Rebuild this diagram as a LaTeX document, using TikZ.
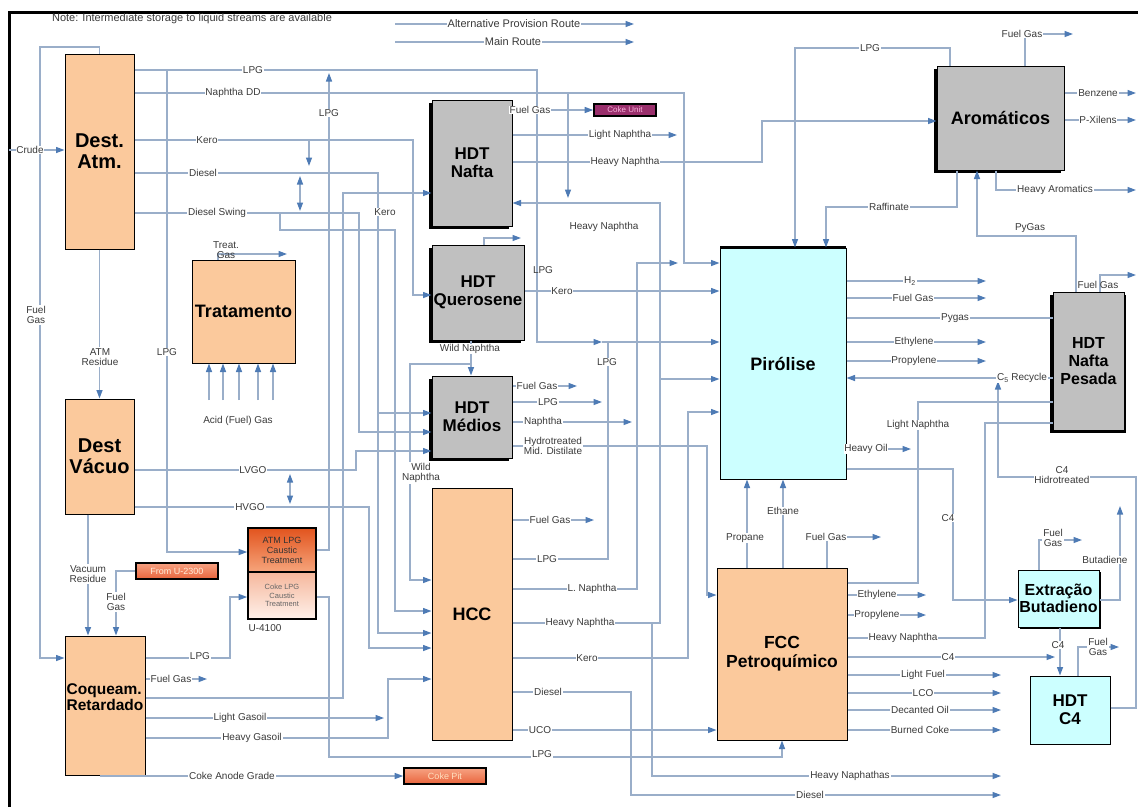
\documentclass[tikz,border=0pt]{standalone}
\usepackage{fontspec}
\setmainfont{Liberation Sans}
\usetikzlibrary{arrows.meta,shadows}
\definecolor{flow}{HTML}{9AAEC9}
\definecolor{tipc}{HTML}{4E7BB5}
\definecolor{peach}{HTML}{FBC99C}
\definecolor{graybox}{HTML}{C0C0C0}
\definecolor{cyanbox}{HTML}{CCFFFF}
\definecolor{lab}{HTML}{3A3A3A}
\definecolor{cokeu}{HTML}{9A2F6C}
\definecolor{caustA}{HTML}{E2541E}
\definecolor{caustB}{HTML}{F6A57C}
\definecolor{caustC}{HTML}{F5B79C}
\definecolor{caustD}{HTML}{FFF1EA}
\definecolor{tagA}{HTML}{F7A282}
\definecolor{tagB}{HTML}{E8643C}
\tikzset{
  ln/.style={draw=flow, line width=1.3pt},
  ar/.style={ln, -{Triangle[length=8.5pt,width=6pt,color=tipc]}},
  unit/.style={draw=black, line width=1pt, inner sep=0pt, align=center,
    font=\bfseries\fontsize{18}{19}\selectfont},
  obox/.style={unit, fill=peach},
  gbox/.style={unit, fill=graybox, font=\bfseries\fontsize{17}{18}\selectfont,
    drop shadow={shadow xshift=-3pt, shadow yshift=-3pt, fill=black, opacity=1}},
  cbox/.style={unit, fill=cyanbox},
  tag/.style={draw=black, line width=1.6pt, inner sep=0pt, align=center,
    font=\fontsize{9}{10}\selectfont},
  lbl/.style={font=\fontsize{10}{10.5}\selectfont, text=lab, fill=white,
    inner sep=0.8pt, align=center},
  plain/.style={font=\fontsize{10}{10.5}\selectfont, text=lab, inner sep=0.8pt, align=center}
}
\begin{document}
\begin{tikzpicture}[x=1pt,y=-1pt]
\useasboundingbox (0,0) rectangle (1138,807);
\fill[white] (0,0) rectangle (1138,807);
\draw[line width=3pt] (9,807) -- (9,12.5) -- (1138,12.5);

% ---------- process units ----------
\node[obox, minimum width=69, minimum height=195, font=\bfseries\fontsize{20}{21}\selectfont] (atm) at (99.5,151.5) {Dest.\\Atm.};
\node[obox, minimum width=103, minimum height=103] (trat) at (243.5,311.5) {Tratamento};
\node[obox, minimum width=69, minimum height=115, font=\bfseries\fontsize{20}{21}\selectfont] (vac) at (99.5,456.5) {Dest\\Vácuo};
\node[obox, minimum width=80, minimum height=139] (coq) at (105,705.5) {};
\node[font=\bfseries\fontsize{15.5}{16.5}\selectfont, inner sep=0pt, align=left] (coqlab) at (105,697) {Coqueam.\\Retardado};
\node[tag, minimum width=68, minimum height=44, top color=caustA, bottom color=caustB, text=black!80] (capt) at (282,550) {ATM LPG\\Caustic\\Treatment};
\node[tag, minimum width=68, minimum height=47, top color=caustC, bottom color=caustD, text=black!60, font=\fontsize{7.5}{8.5}\selectfont] (capb) at (282,595.5) {Coke LPG\\Caustic\\Treatment};
\node[tag, minimum width=82, minimum height=16, top color=tagA, bottom color=tagB, text=orange!15!white] (u2300) at (177,571) {From U-2300};
\node[tag, minimum width=82, minimum height=16, top color=tagA, bottom color=tagB, text=orange!25!white] (cokepit) at (445,776) {Coke Pit};
\node[tag, minimum width=62, minimum height=12, fill=cokeu, text=magenta!30!white, font=\fontsize{8}{9}\selectfont] (cokeunit) at (625,110) {Coke Unit};
\node[gbox, minimum width=80, minimum height=126] (hdtn) at (472,163) {HDT\\Nafta};
\node[gbox, minimum width=92, minimum height=95] (hdtq) at (478,292.5) {HDT\\Querosene};
\node[gbox, minimum width=80, minimum height=82] (hdtm) at (472,417) {HDT\\Médios};
\node[obox, minimum width=80, minimum height=252] (hcc) at (472,614) {HCC};
\node[cbox, minimum width=126, minimum height=231,
  drop shadow={shadow xshift=0pt, shadow yshift=2.5pt, fill=black, opacity=1}] (pir) at (783,363.5) {Pirólise};
\node[obox, minimum width=130, minimum height=172, font=\bfseries\fontsize{17.5}{19}\selectfont] (fcc) at (782,654) {FCC\\Petroquímico};
\node[gbox, minimum width=127, minimum height=104, font=\bfseries\fontsize{18}{19}\selectfont] (aro) at (1000.5,118) {Aromáticos};
\node[gbox, minimum width=71, minimum height=138, font=\bfseries\fontsize{16}{18}\selectfont,
  drop shadow={shadow xshift=2pt, shadow yshift=-3pt, fill=black, opacity=1}] (hnp) at (1088.5,361) {HDT\\Nafta\\Pesada};
\node[cbox, minimum width=81, minimum height=57, font=\bfseries\fontsize{16}{17}\selectfont,
  drop shadow={shadow xshift=2pt, shadow yshift=-2pt, fill=black, opacity=1}] (ext) at (1058.5,598.5) {Extração\\Butadieno};
\node[cbox, minimum width=80, minimum height=68, font=\bfseries\fontsize{17}{18}\selectfont] (hc4) at (1070,710) {HDT\\C4};

% ---------- legend ----------
\coordinate (lg1) at (395,24); \coordinate (lg1e) at (634,24);
\coordinate (lg2) at (395,42); \coordinate (lg2e) at (634,42);
\draw[ar] (lg1) -- (lg1e);
\draw[ar] (lg2) -- (lg2e);

% ---------- atmospheric distillation ----------
\coordinate (crude) at (9,150);
\draw[ar] (crude) -- (atm.west |- 0,150);
\draw[ar] (atm.north) -- (99.5,47) -- (40,47) -- (40,658) -- (coq.west |- 0,658);
\draw[ar] (atm.south) -- (vac.north);
\draw[ar] (vac.south -| 88,0) -- (coq.north -| 88,0);
\draw[ar] (u2300.west) -- (116,571) -- (coq.north -| 116,0);
\draw[ar] (167,70) -- (167,552) -- (capt.west |- 0,552);
\draw[ar] (atm.east |- 0,70) -- (537,70) -- (537,342) -- (602,342);
\draw[ar] (602,342) -- (pir.west |- 0,342);
\draw[ar] (atm.east |- 0,93) -- (684,93) -- (684,263) -- (pir.west |- 0,263);
\draw[ar] (atm.east |- 0,140) -- (413,140) -- (413,295) -- (hdtq.west |- 0,295);
\draw[ar] (309,140) -- (309,166);
\draw[ar] (300,193) -- (300,176);
\draw[ar] (300,193) -- (300,211);
\draw[ar] (atm.east |- 0,173) -- (378,173) -- (378,633) -- (hcc.west |- 0,633);
\draw[ar] (378,413) -- (hdtm.west |- 0,413);
\draw[ar] (atm.east |- 0,213) -- (359,213) -- (359,432) -- (hdtm.west |- 0,432);
\draw[ar] (280,213) -- (280,230) -- (395,230) -- (395,611) -- (hcc.west |- 0,611);

% ---------- treating ----------
\draw[ar] (trat.north -| 218,0) -- (218,254) -- (287,254);
\foreach \xx in {209,223,239,258,273}
  \draw[ar] (\xx,400) -- (trat.south -| \xx,0);

% ---------- vacuum distillation ----------
\draw[ar] (vac.east |- 0,470) -- (356,470) -- (356,451) -- (hdtm.west |- 0,451);
\draw[ar] (vac.east |- 0,507) -- (369,507) -- (369,648) -- (hcc.west |- 0,648);
\draw[ar] (290,489) -- (290,474);
\draw[ar] (290,489) -- (290,504);

% ---------- delayed coking ----------
\draw[ar] (coq.east |- 0,658) -- (230,658) -- (230,597) -- (capb.west |- 0,597);
\draw[ar] (coq.east |- 0,679) -- (207,679);
\draw[ar] (coq.east |- 0,698) -- (343,698) -- (343,193) -- (hdtn.west |- 0,193);
\draw[ar] (coq.east |- 0,718) -- (384,718);
\draw[ar] (coq.east |- 0,738) -- (388,738) -- (388,679) -- (hcc.west |- 0,679);
\coordinate (cag) at (100,776);
\draw[ar] (cag) -- (cokepit.west);

% ---------- caustic treatment ----------
\draw[ar] (capt.east) -- (329,550) -- (329,73);
\draw[ar] (capb.east |- 0,597) -- (329,597) -- (329,757) -- (782,757) -- (fcc.south -| 782,0);

% ---------- hydrotreaters ----------
\draw[ar] (hdtq.south -| 471,0) -- (hdtm.north -| 471,0);
\draw[ar] (471,364) -- (410,364) -- (410,580) -- (hcc.west |- 0,580);
\draw[ar] (hdtq.north -| 484,0) -- (484,238) -- (521,238);
\draw[ar] (hdtq.east |- 0,291) -- (pir.west |- 0,291);
\draw[ar] (hdtn.east |- 0,110) -- (cokeunit.west);
\draw[ar] (hdtn.east |- 0,135) -- (677,135);
\draw[ar] (hdtn.east |- 0,162) -- (762,162) -- (762,121) -- (aro.west |- 0,121);
\draw[ar] (568,93) -- (568,198);
\draw[ar] (hdtm.east |- 0,386) -- (577,386);
\draw[ar] (hdtm.east |- 0,402) -- (602,402);
\draw[ar] (hdtm.east |- 0,422) -- (632,422);
\draw[ar] (hdtm.east |- 0,446) -- (707,446) -- (707,595) -- (fcc.west |- 0,595);

% ---------- hydrocracking ----------
\draw[ar] (hcc.east |- 0,520) -- (594,520);
\draw[ln] (hcc.east |- 0,559) -- (608,559) -- (608,342);
\draw[ar] (hcc.east |- 0,589) -- (637,589) -- (637,263) -- (678,263);
\draw[ar] (hcc.east |- 0,623) -- (660,623) -- (660,203) -- (hdtn.east |- 0,203);
\draw[ar] (660,379) -- (pir.west |- 0,379);
\draw[ar] (652,623) -- (652,776) -- (1001,776);
\draw[ar] (hcc.east |- 0,658) -- (688,658) -- (688,412) -- (pir.west |- 0,412);
\draw[ar] (hcc.east |- 0,692) -- (631,692) -- (631,795) -- (1001,795);
\draw[ar] (hcc.east |- 0,730) -- (fcc.west |- 0,730);

% ---------- aromatics ----------
\draw[ar] (aro.north -| 950,0) -- (950,48) -- (795,48) -- (pir.north -| 795,0);
\draw[ar] (aro.south -| 957,0) -- (957,207) -- (826,207) -- (pir.north -| 826,0);
\draw[ar] (aro.north -| 1025,0) -- (1025,34) -- (1073,34);
\draw[ar] (aro.east |- 0,93) -- (1136,93);
\draw[ar] (aro.east |- 0,120) -- (1136,120);
\draw[ar] (aro.south -| 996,0) -- (996,190) -- (1136,190);
\draw[ar] (hnp.north -| 1076,0) -- (1076,236) -- (977,236) -- (aro.south -| 977,0);

% ---------- pyrolysis ----------
\foreach \yy in {281,298,342,361}
  \draw[ar] (pir.east |- 0,\yy) -- (986,\yy);
\draw[ln] (pir.east |- 0,318) -- (hnp.west |- 0,318);
\draw[ar] (hnp.west |- 0,378) -- (pir.east |- 0,378);
\draw[ar] (pir.east |- 0,449) -- (911,449);
\draw[ar] (pir.east |- 0,469) -- (953,469) -- (953,600) -- (ext.west |- 0,600);

% ---------- heavy naphtha hydrotreating ----------
\draw[ar] (hnp.north -| 1100,0) -- (1100,275) -- (1136,275);
\draw[ln] (fcc.east |- 0,583) -- (918,583) -- (918,402) -- (hnp.west |- 0,402);
\draw[ln] (fcc.east |- 0,638) -- (985,638) -- (985,423) -- (hnp.west |- 0,423);
\draw[ar] (hc4.east |- 0,708) -- (1136,708) -- (1136,477) -- (998,477) -- (998,381);

% ---------- butadiene / C4 ----------
\draw[ar] (ext.north -| 1039,0) -- (1039,540) -- (1082,540);
\draw[ar] (ext.east |- 0,600) -- (1120,600) -- (1120,506);
\draw[ar] (ext.south -| 1060,0) -- (hc4.north -| 1060,0);
\draw[ar] (fcc.east |- 0,657) -- (1055,657);
\draw[ar] (hc4.north -| 1078,0) -- (1078,647) -- (1119,647);

% ---------- FCC ----------
\draw[ar] (fcc.north -| 747,0) -- (pir.south -| 747,0);
\draw[ar] (fcc.north -| 783,0) -- (pir.south -| 783,0);
\draw[ar] (fcc.north -| 827,0) -- (827,537) -- (881,537);
\draw[ar] (fcc.east |- 0,595) -- (926,595);
\draw[ar] (fcc.east |- 0,615) -- (926,615);
\foreach \yy in {675,693,710,730}
  \draw[ar] (fcc.east |- 0,\yy) -- (1001,\yy);

% ---------- stream labels ----------
\node[plain, font=\fontsize{11}{12}\selectfont] (note) at (192,19) {Note: Intermediate storage to liquid streams are available};
\node[lbl, font=\fontsize{11}{12}\selectfont] at (514,24) {Alternative Provision Route};
\node[lbl, font=\fontsize{11}{12}\selectfont] at (513,42) {Main Route};
\node[lbl] at (30,150) {Crude};
\node[lbl] at (36,315) {Fuel\\Gas};
\node[lbl] at (100,357) {ATM\\Residue};
\node[lbl] at (88,574) {Vacuum\\Residue};
\node[lbl] at (116,602) {Fuel\\Gas};
\node[lbl] at (167,352) {LPG};
\node[lbl] at (253,70) {LPG};
\node[lbl] at (233,93) {Naphtha DD};
\node[lbl] at (207,140) {Kero};
\node[lbl] at (203,173) {Diesel};
\node[lbl] at (217,213) {Diesel Swing};
\node[lbl] at (385,212) {Kero};
\node[lbl] at (329,113) {LPG};
\node[plain] at (226,250) {Treat.\\Gas};
\node[plain] at (238,421) {Acid (Fuel) Gas};
\node[lbl] at (253,470) {LVGO};
\node[lbl] at (250,507) {HVGO};
\node[lbl] at (200,656) {LPG};
\node[lbl] at (171,679) {Fuel Gas};
\node[lbl] at (240,718) {Light Gasoil};
\node[lbl] at (252,738) {Heavy Gasoil};
\node[lbl] at (232,776) {Coke Anode Grade};
\node[plain] at (265,628) {U-4100};
\node[lbl] at (542,754) {LPG};
\node[lbl] at (470,349) {Wild Naphtha};
\node[lbl] at (421,473) {Wild\\Naphtha};
\node[plain] at (543,270) {LPG};
\node[lbl] at (562,291) {Kero};
\node[lbl] at (530,110) {Fuel Gas};
\node[lbl] at (620,135) {Light Naphtha};
\node[lbl] at (625,162) {Heavy Naphtha};
\node[plain] at (604,227) {Heavy Naphtha};
\node[lbl] at (537,386) {Fuel Gas};
\node[lbl] at (548,402) {LPG};
\node[lbl] at (543,422) {Naphtha};
\node[lbl] at (553,446) {Hydrotreated\\Mid. Distilate};
\node[lbl] at (607,362) {LPG};
\node[lbl] at (550,520) {Fuel Gas};
\node[lbl] at (547,559) {LPG};
\node[lbl] at (592,589) {L. Naphtha};
\node[lbl] at (580,623) {Heavy Naphtha};
\node[lbl] at (587,658) {Kero};
\node[lbl] at (548,692) {Diesel};
\node[lbl] at (540,730) {UCO};
\node[lbl] at (850,776) {Heavy Naphathas};
\node[lbl] at (810,795) {Diesel};
\node[lbl] at (870,48) {LPG};
\node[lbl] at (889,207) {Raffinate};
\node[lbl] at (1022,34) {Fuel Gas};
\node[lbl] at (1098,93) {Benzene};
\node[lbl] at (1098,120) {P-Xilens};
\node[lbl] at (1055,190) {Heavy Aromatics};
\node[plain] at (1030,228) {PyGas};
\node[lbl] at (910,281) {H\textsubscript{2}};
\node[lbl] at (913,298) {Fuel Gas};
\node[lbl] at (955,318) {Pygas};
\node[lbl] at (914,342) {Ethylene};
\node[lbl] at (914,361) {Propylene};
\node[lbl] at (1022,378) {C\textsubscript{5} Recycle};
\node[plain] at (1098,285) {Fuel Gas};
\node[lbl] at (918,425) {Light Naphtha};
\node[lbl] at (866,449) {Heavy Oil};
\node[lbl] at (948,518) {C4};
\node[lbl] at (1062,475) {C4\\Hidrotreated};
\node[lbl] at (1053,538) {Fuel\\Gas};
\node[lbl] at (1105,560) {Butadiene};
\node[lbl] at (1058,645) {C4};
\node[lbl] at (1098,647) {Fuel\\Gas};
\node[lbl] at (745,538) {Propane};
\node[lbl] at (783,511) {Ethane};
\node[lbl] at (826,537) {Fuel Gas};
\node[lbl] at (877,595) {Ethylene};
\node[lbl] at (877,615) {Propylene};
\node[lbl] at (903,638) {Heavy Naphtha};
\node[lbl] at (948,657) {C4};
\node[lbl] at (923,675) {Light Fuel};
\node[lbl] at (923,693) {LCO};
\node[lbl] at (920,710) {Decanted Oil};
\node[lbl] at (920,730) {Burned Coke};
\end{tikzpicture}
\end{document}
